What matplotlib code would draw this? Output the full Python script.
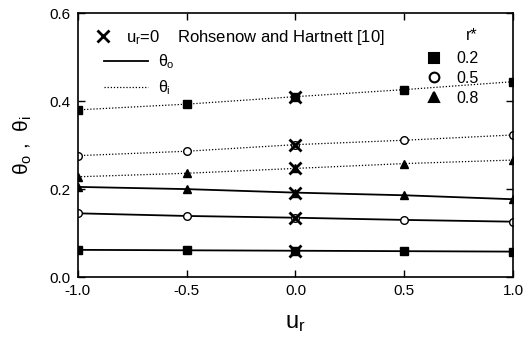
import numpy as np
import matplotlib.pyplot as plt
from matplotlib.lines import Line2D

plt.rcParams['font.family'] = ['Liberation Sans', 'DejaVu Sans']
plt.rcParams['mathtext.fontset'] = 'custom'
plt.rcParams['mathtext.rm'] = 'Liberation Sans'
plt.rcParams['mathtext.it'] = 'Liberation Sans'

ur = [-1.0, -0.5, 0.0, 0.5, 1.0]
r_star = ['0.2', '0.5', '0.8']
markers = ['s', 'o', '^']
facecolors = ['black', 'white', 'black']

theta_o = [
    [0.062, 0.061, 0.060, 0.059, 0.058],
    [0.145, 0.139, 0.135, 0.130, 0.126],
    [0.205, 0.200, 0.192, 0.186, 0.177],
]
theta_i = [
    [0.380, 0.393, 0.410, 0.426, 0.444],
    [0.276, 0.286, 0.301, 0.311, 0.323],
    [0.228, 0.236, 0.247, 0.258, 0.266],
]

# Rohsenow and Hartnett at u_r = 0
rh_x = [0.0] * 6
rh_y = [0.410, 0.301, 0.247, 0.192, 0.135, 0.060]

fig = plt.figure(figsize=(5.29, 3.43), dpi=100)
ax = fig.add_axes([0.147, 0.192, 0.823, 0.770])

dots = (0, (1, 1.5))
for k in range(3):
    ax.plot(ur, theta_o[k], color='black', lw=1.3, marker=markers[k],
            mfc=facecolors[k], mec='black', ms=5.5, mew=1.0)
    ax.plot(ur, theta_i[k], color='black', lw=0.9, ls=dots,
            marker=markers[k], mfc=facecolors[k], mec='black', ms=5.5, mew=1.0)

ax.plot(rh_x, rh_y, ls='none', marker='x', color='black', ms=8, mew=2)

ax.set_xlim(-1.0, 1.0)
ax.set_ylim(0.0, 0.6)
ax.set_xticks([-1.0, -0.5, 0.0, 0.5, 1.0])
ax.set_yticks([0.0, 0.2, 0.4, 0.6])
ax.xaxis.set_major_formatter(plt.FormatStrFormatter('%.1f'))
ax.yaxis.set_major_formatter(plt.FormatStrFormatter('%.1f'))
ax.tick_params(direction='in', top=True, right=True, length=5, width=1,
               labelsize=11, pad=5)
for s in ax.spines.values():
    s.set_linewidth(1.2)

ax.set_xlabel('$u_r$', fontsize=17, labelpad=10)
ax.set_ylabel(r'$\theta_o$ ,  $\theta_i$', fontsize=15, labelpad=11)

# legend row for Rohsenow and Hartnett
hx = [Line2D([], [], ls='none', marker='x', color='black', ms=8, mew=2)]
lx = ax.legend(hx, ['$u_r$=0    Rohsenow and Hartnett [10]'], loc='upper left',
               bbox_to_anchor=(0.02, 0.97), frameon=False, fontsize=12,
               handlelength=1.2, handletextpad=0.8, borderaxespad=0)
ax.add_artist(lx)

# legend rows for theta_o / theta_i line styles
hl = [Line2D([], [], color='black', lw=1.3),
      Line2D([], [], color='black', lw=0.9, ls=dots)]
ll = ax.legend(hl, [r'$\theta_o$', r'$\theta_i$'], loc='upper left',
               bbox_to_anchor=(0.045, 0.875), frameon=False, fontsize=11.5,
               handlelength=2.8, handletextpad=0.6, labelspacing=0.45,
               borderaxespad=0)
ax.add_artist(ll)

h2 = [Line2D([], [], ls='none', marker=markers[k], mfc=facecolors[k],
             mec='black', ms=7, mew=1.5) for k in range(3)]
ax.legend(h2, r_star, loc='upper right', bbox_to_anchor=(0.935, 0.88),
          frameon=False, fontsize=11.5, handlelength=1.2,
          labelspacing=0.3, borderaxespad=0)
ax.text(0.905, 0.915, 'r*', transform=ax.transAxes, fontsize=11.5,
        ha='center', va='center')

fig.savefig('out.png', dpi=100)
